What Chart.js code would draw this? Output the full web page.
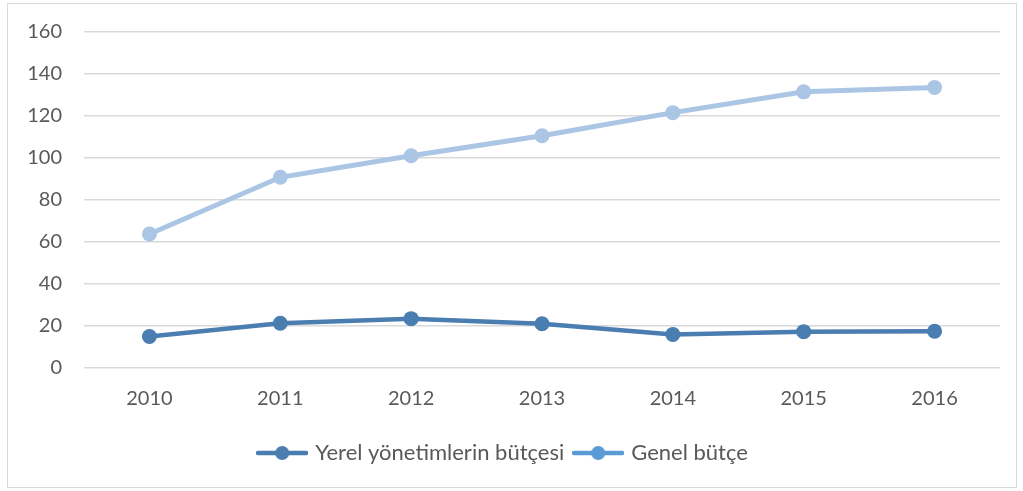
<!DOCTYPE html>
<html>
<head>
<meta charset="utf-8">
<script src="https://cdn.jsdelivr.net/npm/chart.js@4"></script>
<style>
  body { margin: 0; background: #fff; }
  #box { position: absolute; left: 7px; top: 3px; width: 1008px; height: 483px; border: 1px solid #d9d9d9; }
</style>
</head>
<body>
<div id="box"><canvas id="lineChart"></canvas></div>
<script>
const years = ['2010', '2011', '2012', '2013', '2014', '2015', '2016'];
const yerel = [15, 21.3, 23.5, 21.1, 16, 17.3, 17.5];
const genel = [63.8, 90.8, 101.1, 110.6, 121.6, 131.5, 133.6];

const darkBlue = '#4a7db0';
const lightBlue = '#abc5e5';
const legendLight = '#5b9bd5';

// little line-with-dot picture for the legend, like Excel draws it
function legendMark(color) {
  const c = document.createElement('canvas');
  c.width = 52; c.height = 16;
  const g = c.getContext('2d');
  g.strokeStyle = color;
  g.lineWidth = 4.5;
  g.lineCap = 'round';
  g.beginPath(); g.moveTo(2, 8); g.lineTo(50, 8); g.stroke();
  g.fillStyle = color;
  g.beginPath(); g.arc(26, 8, 7, 0, Math.PI * 2); g.fill();
  return c;
}
const marks = [legendMark(darkBlue), legendMark(legendLight)];

Chart.defaults.font.family = 'Lato, "Open Sans", sans-serif';
Chart.defaults.font.size = 20;
Chart.defaults.color = '#595959';

new Chart(document.getElementById('lineChart'), {
  type: 'line',
  data: {
    labels: years,
    datasets: [{
      label: 'Yerel yönetimlerin bütçesi',
      data: yerel,
      borderColor: darkBlue,
      backgroundColor: darkBlue,
      borderWidth: 4.5,
      pointRadius: 7.5,
      pointHoverRadius: 7.5,
      pointBorderWidth: 0
    }, {
      label: 'Genel bütçe',
      data: genel,
      borderColor: lightBlue,
      backgroundColor: lightBlue,
      borderWidth: 5,
      pointRadius: 7.5,
      pointHoverRadius: 7.5,
      pointBorderWidth: 0
    }]
  },
  options: {
    responsive: true,
    maintainAspectRatio: false,
    animation: false,
    layout: { padding: { top: 28, right: 16, bottom: 13, left: 0 } },
    scales: {
      x: {
        offset: true,
        grid: { display: false, drawTicks: false },
        border: { display: false },
        ticks: { padding: 19 }
      },
      y: {
        min: 0,
        max: 160,
        // small lineHeight so the label padding doesn't push the plot down
        ticks: { stepSize: 20, padding: 22, font: { lineHeight: 0.5 } },
        grid: { color: '#d9d9d9', lineWidth: 1.5, drawTicks: false },
        border: { display: false },
        afterFit: (scale) => { scale.width = 76; }
      }
    },
    plugins: {
      tooltip: { enabled: false },
      legend: {
        position: 'bottom',
        labels: {
          usePointStyle: true,
          pointStyleWidth: 44,
          boxHeight: 16,
          padding: 12,
          font: { size: 22 },
          generateLabels: (chart) => chart.data.datasets.map((ds, i) => ({
            text: ds.label,
            pointStyle: marks[i],
            fontColor: '#595959',
            datasetIndex: i,
            hidden: false,
            lineWidth: 0
          }))
        }
      }
    }
  }
});
</script>
</body>
</html>
